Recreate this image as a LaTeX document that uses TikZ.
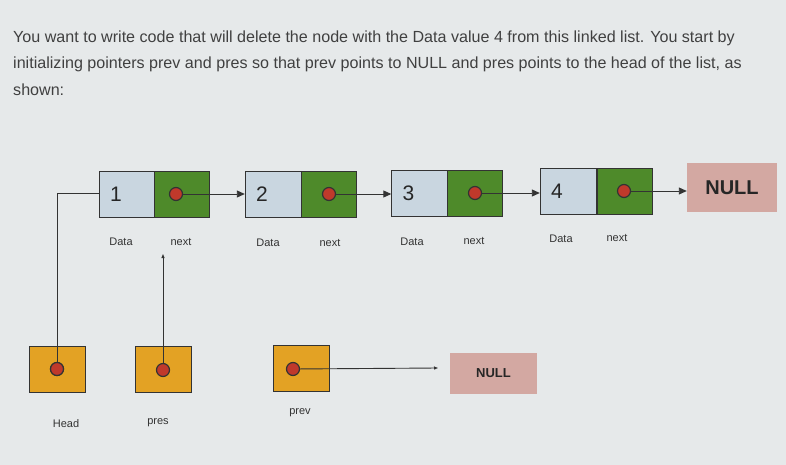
\documentclass[tikz,border=0pt]{standalone}
\usepackage{fontspec}
\setmainfont{Liberation Sans}
\usetikzlibrary{arrows.meta}
\definecolor{bg}{HTML}{E6E9EA}
\definecolor{datac}{HTML}{C9D6E0}
\definecolor{nextc}{HTML}{4E8A2A}
\definecolor{ptrc}{HTML}{E3A224}
\definecolor{nullc}{HTML}{D3A8A2}
\definecolor{dotc}{HTML}{C0392B}
\begin{document}
\begin{tikzpicture}[x=1pt,y=-1pt,
  txt/.style={anchor=west,inner sep=0,font=\fontsize{16.1}{18}\selectfont,text=black!75},
  databox/.style={draw=black!80,fill=datac,minimum width=56pt,minimum height=46pt,inner sep=0,font=\fontsize{21}{22}\selectfont,text=black!85,text width=34pt,align=left},
  nextbox/.style={draw=black!80,fill=nextc,minimum width=55pt,minimum height=46pt,inner sep=0},
  ptrbox/.style={draw=black!80,fill=ptrc,minimum width=56pt,minimum height=46pt,inner sep=0},
  nullbox/.style={fill=nullc,inner sep=0,text=black!85},
  dot/.style={circle,draw=black!80,fill=dotc,minimum size=13pt,inner sep=0,line width=1.2pt},
  lbl/.style={font=\fontsize{11}{12}\selectfont,text=black!80,inner sep=0},
  ptr/.style={draw=black!80,line width=0.9pt},
  arr/.style={ptr,-{Triangle[length=8pt,width=7pt]}}]
\fill[bg] (0,0) rectangle (786,465);
\node[txt] (t1) at (13,38) {You want to write code that will delete the node with the Data value 4 from this linked list. You start by};
\node[txt] (t2) at (13,64) {initializing pointers prev and pres so that prev points to NULL and pres points to the head of the list, as};
\node[txt] (t3) at (13,90) {shown:};
% list nodes
\node[databox] (d1) at (127,194) {1};
\node[nextbox] (n1) at (182,194) {};
\node[databox] (d2) at (273,194) {2};
\node[nextbox] (n2) at (328.5,194) {};
\node[databox] (d3) at (419.5,193) {3};
\node[nextbox] (n3) at (475,193) {};
\node[databox] (d4) at (568,191) {4};
\node[nextbox] (n4) at (624.5,191) {};
\node[nullbox,minimum width=90pt,minimum height=49pt,font=\fontsize{20}{22}\selectfont\bfseries] (null1) at (732,187.5) {NULL};
\node[dot] (p1) at (176,194) {};
\node[dot] (p2) at (329,194) {};
\node[dot] (p3) at (475,193) {};
\node[dot] (p4) at (624,191) {};
\draw[arr] (p1) -- (d2.west |- p1);
\draw[arr] (p2) -- (d3.west |- p2);
\draw[arr] (p3) -- (d4.west |- p3);
\draw[arr] (p4) -- (null1.west |- p4);
% labels
\foreach \n/\x/\y/\t in {a/121/242/Data,b/181/242/next,c/268/243/Data,d/330/243/next,e/412/242/Data,f/474/241/next,g/561/239/Data,h/617/238/next}
  \node[lbl] (l\n) at (\x,\y) {\t};
% pointers
\node[ptrbox] (head) at (57.5,369) {};
\node[ptrbox] (pres) at (163.5,369.5) {};
\node[ptrbox] (prev) at (301,368.5) {};
\node[dot] (hd) at (57,369) {};
\node[dot] (pd) at (163,370) {};
\node[dot] (vd) at (293,369) {};
\node[nullbox,minimum width=87pt,minimum height=41pt,font=\fontsize{13}{15}\selectfont\bfseries] (null2) at (493.5,373) {NULL};
\coordinate (corner) at (54,193);
\coordinate (prestip) at (161,254);
\coordinate (prevtip) at (438,368);
\draw[ptr] (hd.center) -- (hd.center |- corner) -- (d1.west |- corner);
\draw[ptr,-{Triangle[length=4pt,width=3pt]}] (pd) -- (pd |- prestip);
\draw[ptr,-{Triangle[length=4pt,width=3pt]}] (vd) -- (prevtip);
\node[dot] at (hd) {};
\node[lbl] (lhead) at (66,424) {Head};
\node[lbl] (lpres) at (158,423) {pres};
\node[lbl] (lprev) at (300,413) {prev};
\end{tikzpicture}
\end{document}
